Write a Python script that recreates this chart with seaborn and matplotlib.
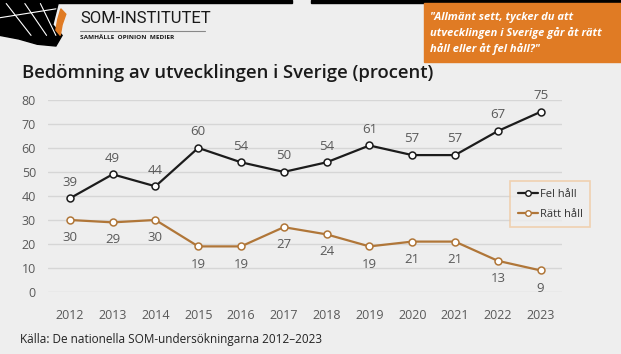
import matplotlib.pyplot as plt
import matplotlib.patches as mpatches
import pandas as pd
import seaborn as sns

years = ["2012", "2013", "2014", "2015", "2016", "2017", "2018", "2019", "2020", "2021", "2022", "2023"]
fel_hall = [39, 49, 44, 60, 54, 50, 54, 61, 57, 57, 67, 75]
ratt_hall = [30, 29, 30, 19, 19, 27, 24, 19, 21, 21, 13, 9]
y_ticks = [0, 10, 20, 30, 40, 50, 60, 70, 80]

BG = "#eeeeee"
GRAY = "#595959"
FEL_COLOR = "#1c1c1c"
RATT_COLOR = "#b07638"

sns.set_style("white")
plt.rcParams["font.family"] = ["Open Sans", "DejaVu Sans"]

df = pd.DataFrame({"year": years, "Fel håll": fel_hall, "Rätt håll": ratt_hall})
long_df = df.melt(id_vars="year", var_name="svar", value_name="procent")

fig = plt.figure(figsize=(6.21, 3.54), dpi=100, facecolor=BG)
ax = fig.add_axes([0.078, 0.175, 0.827, 0.543])
ax.set_facecolor(BG)

sns.lineplot(
    data=long_df, x="year", y="procent", hue="svar",
    palette={"Fel håll": FEL_COLOR, "Rätt håll": RATT_COLOR},
    marker="o", markersize=5, markerfacecolor="white", markeredgewidth=1.1,
    linewidth=1.6, ax=ax, legend=False, clip_on=False, zorder=3,
)
for line in ax.lines:
    line.set_markeredgecolor(line.get_color())

# data labels
for i, v in enumerate(fel_hall):
    ax.annotate(str(v), (i, v), xytext=(0, 7), textcoords="offset points",
                ha="center", va="bottom", fontsize=9.5, color=GRAY)
for i, v in enumerate(ratt_hall):
    ax.annotate(str(v), (i, v), xytext=(0, -8), textcoords="offset points",
                ha="center", va="top", fontsize=9.5, color=GRAY)

ax.set_xlim(-0.5, len(years) - 0.5)
ax.set_ylim(0, 80)
ax.set_yticks(y_ticks)
ax.yaxis.grid(True, color="#d6d6d6", linewidth=1)
ax.set_axisbelow(True)
for s in ax.spines.values():
    s.set_visible(False)
ax.tick_params(axis="both", length=0, labelsize=9, colors=GRAY, pad=12)
ax.tick_params(axis="y", pad=9)
ax.set_xlabel("")
ax.set_ylabel("")

handles = [
    plt.Line2D([], [], color=FEL_COLOR, marker="o", markersize=4, markerfacecolor="white",
               markeredgecolor=FEL_COLOR, linewidth=1.6),
    plt.Line2D([], [], color=RATT_COLOR, marker="o", markersize=4, markerfacecolor="white",
               markeredgecolor=RATT_COLOR, linewidth=1.6),
]
leg = fig.legend(handles, ["Fel håll", "Rätt håll"], loc="upper left",
                 bbox_to_anchor=(0.812, 0.503), frameon=True, fontsize=8,
                 handlelength=1.8, handletextpad=0.2, borderpad=0.7, labelspacing=0.75,
                 fancybox=False, labelcolor="#333333")
leg.get_frame().set_edgecolor("#f0c9a0")
leg.get_frame().set_facecolor(BG)
leg.get_frame().set_linewidth(1.2)

# header: top bars, logo graphic, question box
fig.add_artist(mpatches.Rectangle((0, 0.992), 0.47, 0.008, transform=fig.transFigure, color="black"))
fig.add_artist(mpatches.Rectangle((0.5, 0.992), 0.5, 0.008, transform=fig.transFigure, color="black"))
fig.add_artist(mpatches.Polygon([(0, 1), (0.095, 1), (0.085, 0.93), (0.1, 0.9), (0.09, 0.87),
                                 (0.06, 0.875), (0.03, 0.89), (0, 0.9)],
                                transform=fig.transFigure, color="black"))
for x0, x1 in [(0.01, 0.05), (0.04, 0.075), (0.065, 0.09)]:
    fig.add_artist(plt.Line2D([x0, x1], [0.99, 0.9], transform=fig.transFigure,
                              color="white", linewidth=0.8))
fig.add_artist(plt.Line2D([0, 0.09], [0.95, 0.975], transform=fig.transFigure,
                          color="white", linewidth=0.8))
fig.add_artist(mpatches.Polygon([(0.098, 0.975), (0.106, 0.96), (0.1, 0.93), (0.097, 0.9),
                                 (0.09, 0.915), (0.093, 0.945)],
                                transform=fig.transFigure, color="#e07b24"))
fig.add_artist(mpatches.Rectangle((0.683, 0.825), 0.317, 0.167, transform=fig.transFigure,
                                  color="#e07b24"))
fig.text(0.693, 0.905, "\"Allmänt sett, tycker du att\nutvecklingen i Sverige går åt rätt\nhåll eller åt fel håll?\"",
         ha="left", va="center", fontsize=8.0, color="white", style="italic",
         fontweight="bold", linespacing=1.4)
fig.text(0.129, 0.948, "SOM-INSTITUTET", ha="left", va="center", fontsize=12,
         color="#1a1a1a", family=["Roboto", "DejaVu Sans"])
fig.add_artist(plt.Line2D([0.129, 0.33], [0.912, 0.912], transform=fig.transFigure,
                          color="#888888", linewidth=0.8))
fig.text(0.129, 0.893, "SAMHÄLLE  OPINION  MEDIER", ha="left", va="center", fontsize=4.6,
         color="#1a1a1a", fontweight="bold")

fig.text(0.035, 0.795, "Bedömning av utvecklingen i Sverige (procent)", ha="left", va="center",
         fontsize=13.3, color="#1a1a1a", fontweight="semibold")
fig.text(0.032, 0.04, "Källa: De nationella SOM-undersökningarna 2012–2023", ha="left", va="center",
         fontsize=8.5, color="#222222")

fig.savefig("out.png", dpi=100, facecolor=BG)
